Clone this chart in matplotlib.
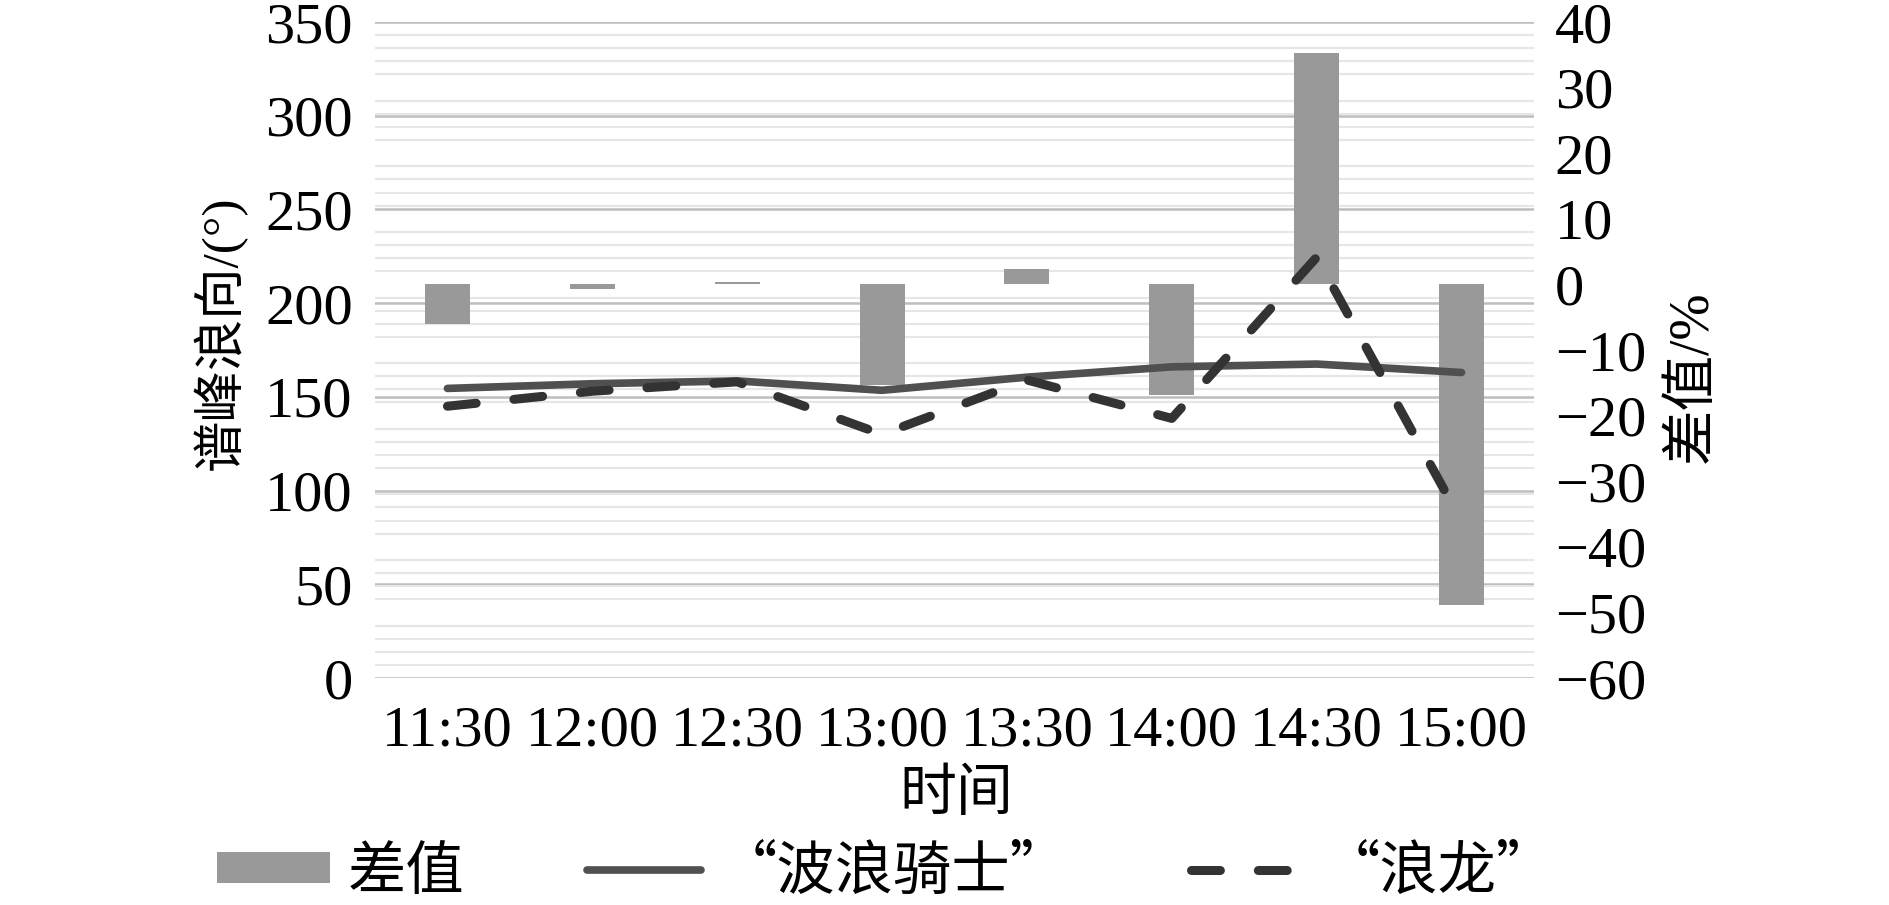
import matplotlib
matplotlib.use('Agg')
import matplotlib.pyplot as plt
import numpy as np

plt.rcParams['font.family'] = ['Liberation Serif', 'Noto Sans CJK SC', 'DejaVu Sans']

# data
times = ['11:30', '12:00', '12:30', '13:00', '13:30', '14:00', '14:30', '15:00']
wave_rider = [154.5, 157, 158.5, 153.5, 160.5, 166, 167.5, 163]   # "波浪骑士", left axis
lang_long = [145, 153, 158, 130, 159, 138.5, 224.5, 83.5]          # "浪龙", left axis
diff_pct = [-6.0, -0.7, 0.4, -15.3, 2.4, -16.9, 35.3, -48.9]       # 差值, right axis

x = np.arange(len(times))

fig = plt.figure(figsize=(18.9, 9.05), dpi=100)
rect = [375 / 1890, 1 - 678 / 905, 1159 / 1890, 656 / 905]

# bottom layer: left scale, major grid
ax = fig.add_axes(rect)
ax.set_ylim(0, 350)
ax.set_xlim(-0.5, len(times) - 0.5)
ax.set_yticks(np.arange(0, 351, 50))
ax.grid(axis='y', color='#bdbdbd', lw=1.8)
ax.set_xticks(x)
ax.set_xticklabels(times)
ax.tick_params(axis='both', length=0, labelsize=42)
ax.tick_params(axis='y', pad=16)
ax.tick_params(axis='x', pad=20)
for s in ax.spines.values():
    s.set_visible(False)

# middle layer: bars on right scale
ax2 = ax.twinx()
ax2.set_ylim(-60, 40)
ax2.set_yticks(np.arange(-60, 41, 10))
ax2.set_yticks(np.arange(-60, 41, 2), minor=True)
ax2.set_axisbelow(True)
ax2.grid(axis='y', which='minor', color='#e6e6e6', lw=1.5)
ax2.bar(x, diff_pct, width=0.31, color='#999999', zorder=2, label='差值')
ax2.tick_params(axis='y', which='both', length=0, labelsize=42, pad=15)
for s in ax2.spines.values():
    s.set_visible(False)

# top layer: lines on left scale
ax3 = ax.twinx()
ax3.set_ylim(0, 350)
ax3.axis('off')
l1, = ax3.plot(x, wave_rider, color='#505050', lw=5.5, solid_capstyle='round',
               solid_joinstyle='round', label='“波浪骑士”')
l2, = ax3.plot(x, lang_long, color='#333333', lw=6.5, dash_capstyle='round',
               label='“浪龙”')
l2.set_dashes((3.2, 4.2))

fig.text(220 / 1890, 1 - 333 / 905, '谱峰浪向/(°)', rotation=90,
         ha='center', va='center', fontsize=37)
fig.text(1693 / 1890, 1 - 377 / 905, '差值/%', rotation=90,
         ha='center', va='center', fontsize=40)
fig.text(956 / 1890, 1 - 796 / 905, '时间', ha='center', va='center', fontsize=41)

bars = ax2.containers[0]
fig.legend([bars, l1, l2], ['差值', '“波浪骑士”', '“浪龙”'],
           loc='center', bbox_to_anchor=(886 / 1890, 1 - 872 / 905),
           ncol=3, frameon=False, handlelength=1.95,
           prop={'family': ['Noto Sans CJK SC', 'Liberation Serif'], 'size': 42},
           handleheight=0.45, handletextpad=0.3, columnspacing=2.1,
           borderpad=0)

fig.savefig('out.png', dpi=100)
